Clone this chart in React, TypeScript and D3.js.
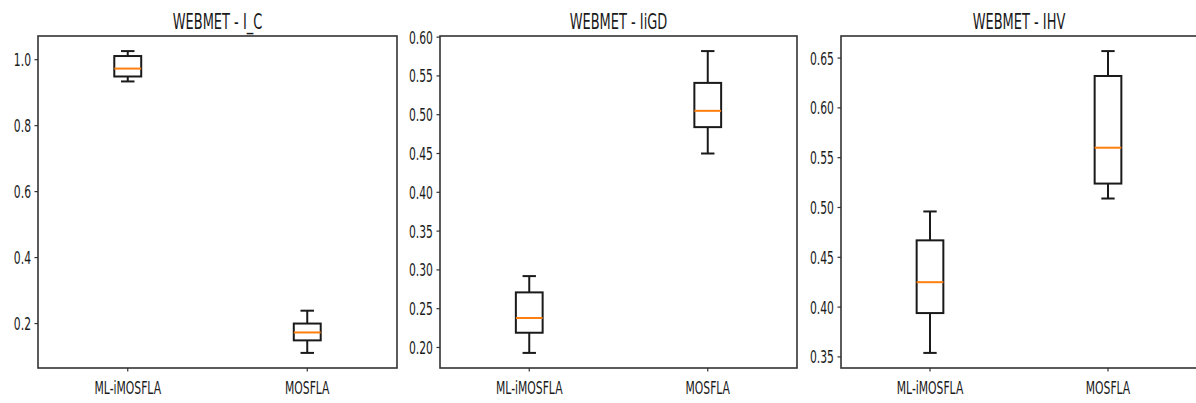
import React from "react";
import * as d3 from "d3";

// Algorithms compared in every panel
const categories = ["ML-iMOSFLA", "MOSFLA"];

// Box statistics per metric: [lower whisker, Q1, median, Q3, upper whisker]
const icStats = [
  [0.934, 0.949, 0.973, 1.011, 1.026],
  [0.111, 0.149, 0.173, 0.2, 0.239],
];
const igdStats = [
  [0.193, 0.219, 0.238, 0.271, 0.292],
  [0.45, 0.484, 0.505, 0.541, 0.582],
];
const hvStats = [
  [0.354, 0.394, 0.425, 0.467, 0.496],
  [0.509, 0.524, 0.56, 0.632, 0.657],
];

const titles = ["WEBMET - I_C", "WEBMET - IiGD", "WEBMET - IHV"];
const icTicks = [0.2, 0.4, 0.6, 0.8, 1.0];
const igdTicks = [0.2, 0.25, 0.3, 0.35, 0.4, 0.45, 0.5, 0.55, 0.6];
const hvTicks = [0.35, 0.4, 0.45, 0.5, 0.55, 0.6, 0.65];

const panels = [
  { title: titles[0], stats: icStats, ticks: icTicks, fmt: d3.format(".1f"), left: 38, width: 359 },
  { title: titles[1], stats: igdStats, ticks: igdTicks, fmt: d3.format(".2f"), left: 440, width: 357 },
  { title: titles[2], stats: hvStats, ticks: hvTicks, fmt: d3.format(".2f"), left: 841, width: 356 },
];

const W = 1196;
const H = 403;
const AX_TOP = 36;
const AX_BOT = 368;
const FONT = "'DejaVu Sans', sans-serif";
const SQUEEZE = 0.6;
const INK = "#1a1a1a";

function Panel({ p }: { p: (typeof panels)[number] }) {
  const lo = d3.min(p.stats, (s) => s[0]) as number;
  const hi = d3.max(p.stats, (s) => s[4]) as number;
  const pad = (hi - lo) * 0.05;
  const y = d3.scaleLinear().domain([lo - pad, hi + pad]).range([AX_BOT, AX_TOP]);
  const right = p.left + p.width;
  const x = d3.scaleLinear().domain([0.5, 2.5]).range([p.left, right]);
  const boxW = x(0.65) - x(0.5);
  const capW = boxW / 2;

  return (
    <g>
      {/* boxes */}
      {p.stats.map((s, i) => {
        const cx = x(i + 1);
        return (
          <g key={i} fill="none" stroke={INK} strokeWidth={2}>
            <line x1={cx} x2={cx} y1={y(s[0])} y2={y(s[1])} />
            <line x1={cx} x2={cx} y1={y(s[3])} y2={y(s[4])} />
            <line x1={cx - capW / 2} x2={cx + capW / 2} y1={y(s[0])} y2={y(s[0])} />
            <line x1={cx - capW / 2} x2={cx + capW / 2} y1={y(s[4])} y2={y(s[4])} />
            <rect x={cx - boxW / 2} y={y(s[3])} width={boxW} height={y(s[1]) - y(s[3])} />
            <line
              x1={cx - boxW / 2}
              x2={cx + boxW / 2}
              y1={y(s[2])}
              y2={y(s[2])}
              stroke="#ff7f0e"
              strokeWidth={2}
            />
          </g>
        );
      })}
      {/* frame */}
      <rect
        x={p.left}
        y={AX_TOP}
        width={p.width}
        height={AX_BOT - AX_TOP}
        fill="none"
        stroke="#333"
        strokeWidth={1.6}
      />
      {/* y ticks */}
      {p.ticks.map((t) => (
        <g key={t}>
          <line x1={p.left - 3.5} x2={p.left} y1={y(t)} y2={y(t)} stroke="#333" strokeWidth={1.2} />
          <text
            transform={`translate(${p.left - 7},${y(t) + 6.5}) scale(${SQUEEZE},1)`}
            textAnchor="end"
            fontFamily={FONT}
            fontSize={18}
            fill={INK}
          >
            {p.fmt(t)}
          </text>
        </g>
      ))}
      {/* x ticks */}
      {categories.map((c, i) => (
        <g key={c}>
          <line x1={x(i + 1)} x2={x(i + 1)} y1={AX_BOT} y2={AX_BOT + 3.5} stroke="#333" strokeWidth={1.2} />
          <text
            transform={`translate(${x(i + 1)},${394}) scale(${SQUEEZE},1)`}
            textAnchor="middle"
            fontFamily={FONT}
            fontSize={18}
            fill={INK}
          >
            {c}
          </text>
        </g>
      ))}
      <text
        transform={`translate(${(p.left + right) / 2},${28.5}) scale(0.59,1)`}
        textAnchor="middle"
        fontFamily={FONT}
        fontSize={22}
        fill={INK}
      >
        {p.title}
      </text>
    </g>
  );
}

export default function App() {
  return (
    <svg
      width={W}
      height={H}
      viewBox={`0 0 ${W} ${H}`}
      style={{ position: "absolute", left: 0, top: 0, background: "#fff" }}
    >
      <rect width={W} height={H} fill="#fff" />
      {panels.map((p) => (
        <Panel key={p.title} p={p} />
      ))}
    </svg>
  );
}
